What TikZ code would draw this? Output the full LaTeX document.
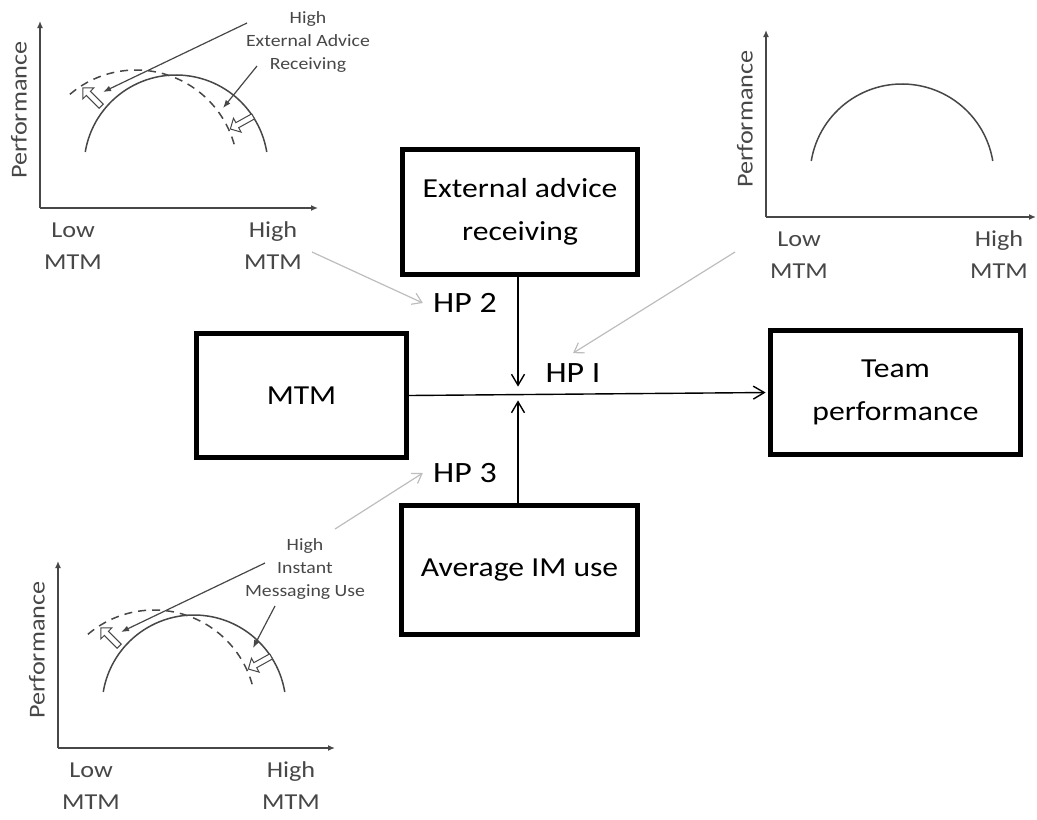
\documentclass[tikz,border=0pt]{standalone}
\usepackage{fontspec}
\setmainfont{Carlito}[FakeStretch=1.15]
\usetikzlibrary{arrows.meta,positioning,shapes.arrows}

\definecolor{chartgray}{HTML}{474747}
\definecolor{linkgray}{HTML}{BDBDBD}

\tikzset{
  varbox/.style={draw, line width=2.5pt, align=center, inner sep=0pt,
    font=\fontsize{13.75}{21.5}\selectfont},
  hplabel/.style={inner sep=5pt, font=\fontsize{14.75}{18}\selectfont},
  path link/.style={line width=0.7pt, shorten >=1.2pt,
    -{Straight Barb[length=5.5pt,width=6.5pt]}},
  gray link/.style={linkgray, line width=0.6pt,
    -{Straight Barb[length=4.5pt,width=6pt]}},
  chartaxis/.style={chartgray, line width=0.75pt, -{Latex[length=3.5pt,width=3pt]}},
  chartcurve/.style={chartgray, line width=0.75pt},
  axislabel/.style={chartgray, align=center, font=\fontsize{11.4}{16}\selectfont},
  notelabel/.style={chartgray, align=center, font=\fontsize{8.6}{11.5}\selectfont},
  pointer/.style={chartgray, line width=0.6pt, -{Latex[length=4pt,width=3pt]}},
  shiftarrow/.style={single arrow, draw=chartgray, line width=0.5pt, fill=white,
    inner sep=1.2pt, minimum height=13pt, single arrow head extend=2.5pt}
}

\begin{document}
\begin{tikzpicture}[x=0.5pt, y=-0.5pt]
  \useasboundingbox (0,0) rectangle (1037,819);

  % small charts: axes, curve and axis labels
  \foreach \n/\ox/\oy/\ax in {tl/40/208/278, tr/766/217/270, bl/58/748/277}{
    \begin{scope}[shift={(\ox,\oy)}]
      \draw[chartaxis] (0,0) -- (0,-187);
      \draw[chartaxis] (0,0) -- (\ax,0);
      \draw[chartcurve] ([shift={(189.4:92)}]136,-41)
        arc[start angle=189.4, end angle=350.6, radius=92];
      \node[axislabel, rotate=90] (\n-perf) at (-21,-98) {Performance};
      \node[axislabel] (\n-low) at (33,38) {Low\\MTM};
      \node[axislabel] (\n-high) at (233,38) {High\\MTM};
    \end{scope}
  }

  % shifted curves of the two moderators
  \foreach \n/\ox/\oy/\lx/\ly/\px/\txt in {tl/40/208/268/-166/183/{High\\External Advice\\Receiving},
      bl/58/748/247/-179/195/{High\\Instant\\Messaging Use}}{
    \begin{scope}[shift={(\ox,\oy)}]
      \draw[chartcurve, dash pattern=on 4pt off 3pt] ([shift={(229.6:102)}]96,-36)
        arc[start angle=229.6, end angle=347.3, radius=102];
      \node[shiftarrow, rotate=135] (\n-arrl) at (53,-110) {};
      \node[shiftarrow, rotate=209] (\n-arrr) at (203,-86) {};
      \node[notelabel] (\n-note) at (\lx,\ly) {\txt};
      \coordinate (\n-from1) at (207,-185);
      \coordinate (\n-to1) at (63,-116);
      \coordinate (\n-from2) at (217,-142);
      \coordinate (\n-to2) at (\px,-100);
      \draw[pointer] (\n-from1) -- (\n-to1);
      \draw[pointer] (\n-from2) -- (\n-to2);
    \end{scope}
  }

  % variables
  \node[varbox, minimum width=117.5pt, minimum height=62.5pt] (advice) at (520,212) {External advice\\receiving};
  \node[varbox, minimum width=105pt, minimum height=62pt] (mtm) at (301.5,395.5) {MTM};
  \node[varbox, minimum width=125pt, minimum height=62pt] (team) at (895.5,392.5) {Team\\performance};
  \node[varbox, minimum width=118pt, minimum height=64.5pt] (imuse) at (519.5,570) {Average IM use};

  % hypotheses
  \node[hplabel] (hp2) at (465,303) {HP 2};
  \node[hplabel] (hp1) at (573,373) {HP I};
  \node[hplabel] (hp3) at (465,473) {HP 3};

  \coordinate (hubtop) at (518,389);
  \coordinate (hubbot) at (518,398);
  \draw[path link] (mtm.east) -- (team.west);
  \draw[path link] (advice.south -| hubtop) -- (hubtop);
  \draw[path link] (imuse.north -| hubbot) -- (hubbot);

  % charts to hypotheses
  \coordinate (tl-out) at (312,252);
  \coordinate (tr-out) at (735,252);
  \coordinate (bl-out) at (335,529);
  \draw[gray link] (tl-out) -- (hp2.west);
  \draw[gray link] (tr-out) -- (hp1.north);
  \draw[gray link] (bl-out) -- (hp3.west);
\end{tikzpicture}
\end{document}
